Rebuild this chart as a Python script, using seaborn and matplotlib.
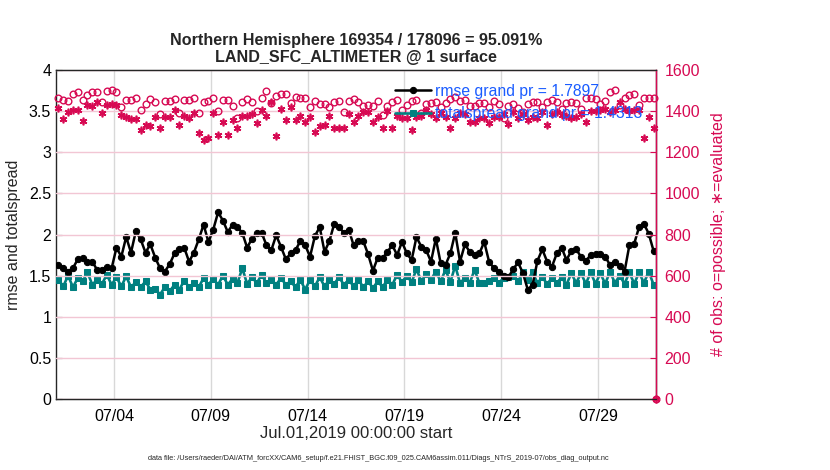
import numpy as np
import pandas as pd
import seaborn as sns
import matplotlib
matplotlib.use("Agg")
import matplotlib.pyplot as plt

# ---- data (6-hourly bins, July 2019) ----
rmse = [1.63, 1.59, 1.55, 1.59, 1.70, 1.72, 1.67, 1.67, 1.57, 1.57,
        1.61, 1.59, 1.84, 1.73, 1.97, 1.78, 2.04, 1.94, 1.78, 1.88,
        1.72, 1.59, 1.55, 1.64, 1.77, 1.82, 1.84, 1.67, 1.78, 1.94,
        2.12, 1.91, 2.06, 2.27, 2.17, 2.03, 2.12, 2.09, 2.02, 1.84,
        1.95, 2.02, 2.02,
        1.87, 1.81, 1.99, 1.85, 1.70, 1.77, 1.81, 1.92, 1.87, 1.73,
        1.98, 2.09, 1.79, 1.92, 2.13, 2.09, 2.02, 2.06, 1.87, 1.92,
        1.92, 1.76, 1.56, 1.72, 1.71, 1.79, 1.87, 1.75, 1.91, 1.77,
        1.69, 1.97, 1.85, 1.81, 1.67, 1.95, 1.65, 1.63, 1.77, 2.02,
        1.67, 1.88, 1.79, 1.75, 1.77, 1.91, 1.67, 1.59, 1.54, 1.49,
        1.48, 1.58, 1.66, 1.53, 1.33, 1.39, 1.68, 1.82, 1.67, 1.61,
        1.77, 1.84, 1.69, 1.80, 1.82, 1.73, 1.68, 1.75, 1.76, 1.76,
        1.73, 1.63, 1.67, 1.62, 1.55, 1.87, 1.89, 2.09, 2.13, 2.01,
        1.80]

spread = [1.45, 1.37, 1.50, 1.36, 1.47, 1.43, 1.54, 1.39, 1.45, 1.40,
          1.51, 1.39, 1.48, 1.37, 1.49, 1.36, 1.42, 1.36, 1.43, 1.33,
          1.34, 1.27, 1.36, 1.31, 1.39, 1.33, 1.44, 1.36, 1.41, 1.36,
          1.47, 1.39, 1.46, 1.39, 1.50, 1.39, 1.46, 1.41, 1.59, 1.40,
          1.48, 1.41, 1.51,
          1.41, 1.45, 1.39, 1.47, 1.39, 1.43, 1.36, 1.45, 1.33, 1.45,
          1.37, 1.48, 1.37, 1.45, 1.40, 1.48, 1.39, 1.45, 1.37, 1.45,
          1.36, 1.43, 1.35, 1.43, 1.36, 1.45, 1.39, 1.51, 1.42, 1.50,
          1.42, 1.58, 1.43, 1.52, 1.45, 1.55, 1.43, 1.57, 1.42, 1.62,
          1.41, 1.47, 1.41, 1.57, 1.41, 1.415, 1.43, 1.47, 1.41, 1.47,
          1.48, 1.50, 1.43, 1.54, 1.45, 1.54, 1.41, 1.48, 1.40, 1.47,
          1.41, 1.48, 1.39, 1.53, 1.41, 1.53, 1.40, 1.54, 1.40, 1.53,
          1.40, 1.55, 1.41, 1.50, 1.40, 1.54, 1.40, 1.54, 1.41, 1.55,
          1.39]

# number of observations, possible (o) and evaluated (*); last bin is empty
nposs = [1465, 1455, 1449, 1482, 1491, 1454, 1478, 1491, 1491, 1446,
         1498, 1503, 1491, 1422, 1454, 1454, 1465, 1405, 1433, 1459,
         1443, 1384, 1449, 1449, 1459, 1389, 1454, 1454, 1465, 1389,
         1443, 1449, 1462, 1400, 1454, 1454, 1427, 1368, 1443, 1459,
         1446, 1400, 1465,
         1498, 1440, 1475, 1482, 1482, 1440, 1470, 1465, 1462, 1420,
         1450, 1433, 1433, 1418, 1443, 1449, 1395, 1449, 1459, 1443,
         1427, 1430, 1427, 1449, 1380, 1427, 1443, 1454, 1405, 1430,
         1449, 1454, 1389, 1433, 1438, 1443, 1422, 1440, 1460, 1470,
         1450,
         1454, 1427, 1427, 1438, 1438, 1422, 1449, 1433, 1368, 1427,
         1433, 1417, 1397, 1433, 1443, 1446, 1422, 1446, 1454, 1443,
         1410, 1438, 1443, 1438, 1410, 1462, 1462, 1459, 1433, 1449,
         1491, 1503, 1430, 1462, 1478, 1482, 1430, 1465, 1465, 1462,
         0]

nused = [1414, 1362, 1397, 1405, 1405, 1352, 1430, 1427, 1443, 1389,
         1430, 1433, 1430, 1381, 1373, 1362, 1362, 1308, 1333, 1329,
         1373, 1320, 1373, 1373, 1405, 1333, 1378, 1365, 1389, 1292,
         1260, 1271, 1389, 1284, 1349, 1284, 1357, 1316, 1378, 1378,
         1384, 1341, 1405,
         1378, 1443, 1281, 1410, 1357, 1422, 1357, 1378, 1346, 1373,
         1297, 1329, 1333, 1378, 1320, 1320, 1320, 1384, 1346, 1378,
         1394, 1394, 1349, 1373, 1320, 1400, 1316, 1378, 1368, 1368,
         1308, 1373, 1378, 1405, 1384, 1365, 1389, 1373, 1320, 1365,
         1389,
         1384, 1346, 1346, 1365, 1365, 1341, 1373, 1373, 1384, 1336,
         1394, 1365, 1384, 1357, 1373, 1365, 1397, 1333, 1384, 1397,
         1381, 1378, 1365, 1373, 1384, 1346, 1400, 1400, 1405, 1410,
         1397, 1405, 1443, 1410, 1400, 1405, 1405, 1271, 1373, 1316,
         0]

xticks = [3, 8, 13, 18, 23, 28]
xticklabels = ["07/04", "07/09", "07/14", "07/19", "07/24", "07/29"]
yticks = [0, 0.5, 1, 1.5, 2, 2.5, 3, 3.5, 4]
yticklabels = ["0", "0.5", "1", "1.5", "2", "2.5", "3", "3.5", "4"]
y2ticks = [0, 200, 400, 600, 800, 1000, 1200, 1400, 1600]

# bin centres in days since Jul.01 00Z; counts have one extra empty bin at the end
days = 0.125 + 0.25 * np.arange(len(rmse))
days_obs = np.append(days, 31.0)

df = pd.DataFrame({"day": days, "rmse": rmse, "spread": spread})
dfo = pd.DataFrame({"day": days_obs, "possible": nposs, "evaluated": nused})

sns.set_style("white")
plt.rcParams["font.family"] = ["Liberation Sans", "DejaVu Sans"]

pink = "#d70a53"
teal = "#008080"

fig = plt.figure(figsize=(8.3, 4.7), dpi=100)
ax = fig.add_axes([56 / 830, 71 / 470, 600 / 830, 329 / 470])

sns.lineplot(data=df, x="day", y="rmse", ax=ax, color="black", linewidth=1.8,
             marker="o", markersize=4.5, markeredgecolor="black", zorder=4,
             label="rmse grand pr = 1.7897")
sns.lineplot(data=df, x="day", y="spread", ax=ax, color=teal, linewidth=1.9,
             marker="s", markersize=4.3, markeredgecolor=teal, zorder=3,
             label="totalspread grand pr = 1.4313")

ax.set_xlim(0, 31)
ax.set_ylim(0, 4)
ax.set_xticks(xticks)
ax.set_xticklabels(xticklabels)
ax.set_yticks(yticks)
ax.set_yticklabels(yticklabels)
ax.tick_params(axis="both", direction="in", length=4, labelsize=11.5, colors="black")
ax.tick_params(axis="x", pad=7)
ax.xaxis.grid(True, color="#d8d8d8", linewidth=1)
ax.yaxis.grid(False)
ax.set_xlabel("Jul.01,2019 00:00:00 start", fontsize=12, labelpad=2)
ax.set_ylabel("rmse and totalspread", fontsize=11.5, labelpad=6)
for s in ax.spines.values():
    s.set_color("#262626")
    s.set_linewidth(1)

ax2 = ax.twinx()
ax2.plot(dfo["day"], dfo["possible"], linestyle="none", marker="o", markersize=4.8,
         markerfacecolor="none", markeredgecolor=pink, markeredgewidth=1, clip_on=False)
ax2.plot(dfo["day"], dfo["evaluated"], linestyle="none", marker=(6, 2, 0), markersize=5.5,
         markeredgecolor=pink, markeredgewidth=1.2, color=pink, clip_on=False)
ax2.set_ylim(0, 1600)
ax2.set_yticks(y2ticks)
ax2.tick_params(axis="y", direction="in", length=4, labelsize=11.5, colors=pink, pad=6)
ax2.yaxis.grid(True, color="#f2c6d4", linewidth=1)
ax2.set_ylabel("# of obs: o=possible; \u2217=evaluated", color=pink, fontsize=11.5, labelpad=8)
ax2.spines["right"].set_color(pink)
ax2.spines["right"].set_linewidth(1)
ax2.spines["left"].set_visible(False)
ax2.spines["top"].set_color("#262626")
ax2.spines["bottom"].set_color("#262626")

ax.get_legend().remove()
h, l = ax.get_legend_handles_labels()
leg = ax2.legend(h, l, loc="upper left", bbox_to_anchor=(0.555, 0.978), frameon=False,
                 fontsize=11.3, handlelength=2.3, handletextpad=0.2, labelspacing=0.5,
                 borderaxespad=0.0)
for t in leg.get_texts():
    t.set_color("#1a5cff")

ax.set_title("Northern Hemisphere 169354 / 178096 = 95.091%\nLAND_SFC_ALTIMETER @ 1 surface",
             fontsize=11.6, fontweight="bold", pad=6, linespacing=1.15)

fig.text(378 / 830, 1 - 458 / 470,
         "data file: /Users/raeder/DAI/ATM_forcXX/CAM6_setup/f.e21.FHIST_BGC.f09_025.CAM6assim.011/Diags_NTrS_2019-07/obs_diag_output.nc",
         fontsize=5.3, ha="center", va="center")

fig.savefig("out.png", dpi=100)
